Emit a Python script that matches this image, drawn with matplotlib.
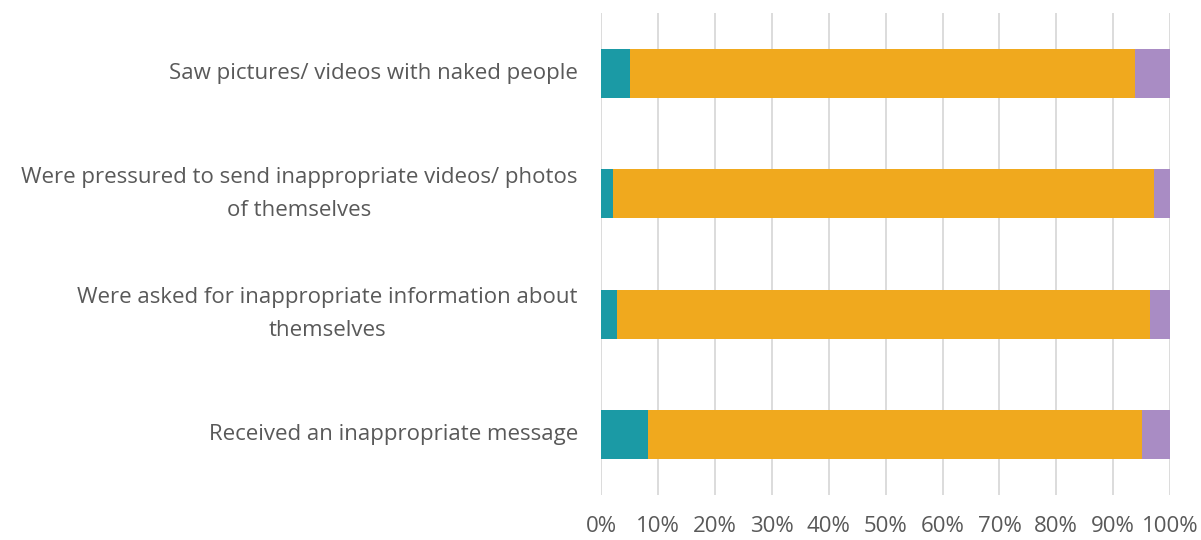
import matplotlib
matplotlib.use("Agg")
import matplotlib.pyplot as plt
import numpy as np

categories = [
    "Received an inappropriate message",
    "Were asked for inappropriate information about\nthemselves",
    "Were pressured to send inappropriate videos/ photos\nof themselves",
    "Saw pictures/ videos with naked people",
]
yes_vals = [8.1, 2.8, 2.1, 5.0]
no_vals = [87.0, 93.6, 95.0, 88.8]
unsure_vals = [4.9, 3.6, 2.9, 6.2]

series = [yes_vals, no_vals, unsure_vals]
colors = ["#1B9AA5", "#F0A91E", "#A98CC4"]
x_ticks = list(range(0, 101, 10))
x_labels = [f"{t}%" for t in x_ticks]

plt.rcParams["font.family"] = ["Open Sans", "DejaVu Sans"]

fig = plt.figure(figsize=(12.01, 5.40), dpi=100)
ax = fig.add_axes([0.5008, 0.0833, 0.4734, 0.8926])

y = np.arange(len(categories))
left = np.zeros(len(categories))
for vals, c in zip(series, colors):
    ax.barh(y, vals, left=left, height=0.41, color=c, zorder=3)
    left += np.array(vals)

ax.set_xlim(0, 100)
ax.set_ylim(-0.5, len(categories) - 0.5)
ax.set_xticks(x_ticks)
ax.set_xticklabels(x_labels)
ax.set_yticks(y)
ax.set_yticklabels(categories, multialignment="center", linespacing=1.75,
                   va="center")

ax.grid(axis="x", color="#D9D9D9", linewidth=1.3, zorder=0)
ax.grid(axis="y", visible=False)
for s in ax.spines.values():
    s.set_visible(False)
ax.tick_params(axis="both", length=0, labelsize=16, labelcolor="#595959")
ax.tick_params(axis="y", pad=17)
ax.tick_params(axis="x", pad=15)

fig.savefig("out.png", dpi=100, facecolor="white")
